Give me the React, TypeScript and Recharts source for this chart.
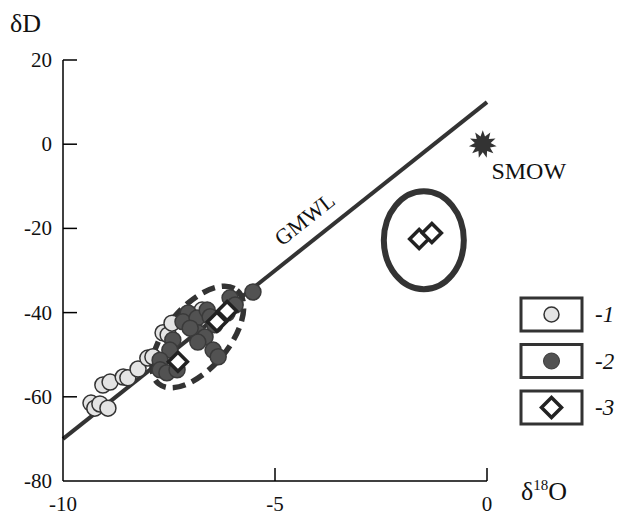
import React from 'react';
import { ScatterChart, Scatter, XAxis, YAxis, ReferenceLine, Legend } from 'recharts';

const FONT = '"Liberation Serif", "Times New Roman", serif';
const INK = '#333333';

const xTicks = [-10, -5, 0];
const yTicks = [20, 0, -20, -40, -60, -80];

// group 1: light circles
const group1X = [-9.34, -9.25, -9.13, -8.94, -9.06, -8.89, -8.58, -8.47, -8.23, -8.0, -7.88, -7.64, -7.52, -7.43, -6.72];
const group1Y = [-61.5, -62.7, -61.7, -62.7, -57.2, -56.5, -55.3, -55.5, -53.4, -50.8, -50.5, -44.8, -45.3, -42.5, -39.4];

// group 2: dark circles
const group2X = [-5.52, -7.05, -7.17, -6.84, -6.6, -6.53, -6.42, -6.82, -6.65, -6.46, -6.34, -6.82, -7.41, -7.48, -7.71, -7.71, -7.55, -7.31, -6.06, -5.94, -6.13, -7.0];
const group2Y = [-35.1, -40.1, -42.2, -41.3, -39.4, -41.0, -42.9, -44.8, -45.8, -48.9, -50.5, -47.0, -46.5, -48.9, -51.3, -53.6, -54.3, -53.6, -36.5, -38.2, -40.1, -43.7];

// group 3: diamonds
const group3X = [-7.29, -6.37, -6.13, -1.6, -1.3];
const group3Y = [-51.7, -42.2, -39.6, -22.5, -21.1];

// global meteoric water line end points: dD = 8 * d18O + 10
const gmwlX = [-10, 0];
const gmwlY = gmwlX.map((v) => 8 * v + 10);

const smow = [{ x: -0.1, y: 0 }];
const gmwlLabel = [{ x: -4.3, y: -17.8 }];
const solidEllipse = [{ x: -1.49, y: -22.8 }];
const dashedEllipse = [{ x: -6.82, y: -45.8 }];

const legendItems = [
  { label: '-1', kind: 'light' },
  { label: '-2', kind: 'dark' },
  { label: '-3', kind: 'diamond' },
];

const toPoints = (xs: number[], ys: number[]) => xs.map((x, i) => ({ x, y: ys[i] }));

const diamondPath = (cx: number, cy: number, s: number) =>
  `M${cx},${cy - s} L${cx + s},${cy} L${cx},${cy + s} L${cx - s},${cy} Z`;

const LightDot = (props: any) => (
  <circle cx={props.cx} cy={props.cy} r={8} fill="#e4e4e4" stroke={INK} strokeWidth={1.5} />
);
const DarkDot = (props: any) => (
  <circle cx={props.cx} cy={props.cy} r={8} fill="#525252" stroke="#3a3a3a" strokeWidth={1.5} />
);
const Diamond = (props: any) => (
  <path d={diamondPath(props.cx, props.cy, 9.5)} fill="#fff" stroke="#222" strokeWidth={3.5} />
);

const Star = (props: any) => {
  const { cx, cy } = props;
  const pts: string[] = [];
  const n = 11;
  for (let i = 0; i < n * 2; i++) {
    const r = i % 2 === 0 ? 14 : 8;
    const a = (Math.PI * i) / n - Math.PI / 2;
    pts.push(`${cx + r * Math.cos(a)},${cy + r * Math.sin(a)}`);
  }
  return (
    <g>
      <polygon points={pts.join(' ')} fill={INK} />
      <text x={cx + 46} y={cy + 27} textAnchor="middle" dominantBaseline="central" fontFamily={FONT} fontSize={24} fill="#111">
        SMOW
      </text>
    </g>
  );
};

const GmwlText = (props: any) => (
  <text
    x={props.cx}
    y={props.cy}
    textAnchor="middle"
    dominantBaseline="central"
    fontFamily={FONT}
    fontSize={22}
    fill="#111"
    transform={`rotate(-38.5, ${props.cx}, ${props.cy})`}
  >
    GMWL
  </text>
);

const SolidRing = (props: any) => (
  <ellipse cx={props.cx} cy={props.cy} rx={40} ry={49} fill="none" stroke={INK} strokeWidth={6} />
);

const DashedRing = (props: any) => (
  <ellipse
    cx={props.cx}
    cy={props.cy}
    rx={61}
    ry={31}
    fill="none"
    stroke={INK}
    strokeWidth={5.5}
    strokeDasharray="13 7"
    transform={`rotate(-50, ${props.cx}, ${props.cy})`}
  />
);

const XTick = (props: any) => {
  const { x, y, payload } = props;
  return (
    <g>
      {payload.value !== -10 && <line x1={x} y1={y} x2={x} y2={y - 13} stroke="#000" strokeWidth={1.5} />}
      <text x={x} y={y + 30} textAnchor="middle" fontFamily={FONT} fontSize={21} fill="#111">
        {payload.value}
      </text>
    </g>
  );
};

const YTick = (props: any) => {
  const { x, y, payload } = props;
  return (
    <g>
      {payload.value !== -80 && <line x1={x} y1={y} x2={x + 14} y2={y} stroke="#000" strokeWidth={1.5} />}
      <text x={x - 11} y={y} textAnchor="end" dominantBaseline="central" fontFamily={FONT} fontSize={21} fill="#111">
        {payload.value}
      </text>
    </g>
  );
};

const LegendBoxes = () => (
  <svg width={110} height={140}>
    {legendItems.map((item, i) => {
      const top = 6 + i * 46.5;
      const cx = 36.5;
      const cy = top + 16.5;
      return (
        <g key={item.label}>
          <rect x={6} y={top} width={61} height={33} fill="#fff" stroke={INK} strokeWidth={3} />
          {item.kind === 'light' && <circle cx={cx} cy={cy} r={7.5} fill="#e4e4e4" stroke={INK} strokeWidth={1.5} />}
          {item.kind === 'dark' && <circle cx={cx} cy={cy} r={8} fill="#525252" stroke="#3a3a3a" strokeWidth={1} />}
          {item.kind === 'diamond' && (
            <path d={diamondPath(cx, cy, 10)} fill="#fff" stroke="#222" strokeWidth={3.5} />
          )}
          <text x={80} y={cy} dominantBaseline="central" fontFamily={FONT} fontStyle="italic" fontSize={23} fill="#111">
            {item.label}
          </text>
        </g>
      );
    })}
  </svg>
);

export default function App() {
  return (
    <div style={{ position: 'absolute', left: 0, top: 0 }}>
      <ScatterChart width={623} height={516} margin={{ top: 60, right: 136, bottom: 0, left: 0 }}>
        <XAxis
          dataKey="x"
          type="number"
          domain={[-10, 0]}
          ticks={xTicks}
          interval={0}
          height={35}
          tickSize={0}
          tickMargin={0}
          tickLine={false}
          axisLine={{ stroke: '#000', strokeWidth: 1.5 }}
          tick={<XTick />}
          label={{
            content: (p: any) => {
              const vb = p.viewBox;
              return (
                <text x={vb.x + vb.width + 34} y={vb.y + 19} fontFamily={FONT} fontSize={26} fill="#111">
                  δ<tspan fontSize={15} dy={-10}>18</tspan>
                  <tspan dy={10}>O</tspan>
                </text>
              );
            },
          }}
        />
        <YAxis
          dataKey="y"
          type="number"
          domain={[-80, 20]}
          ticks={yTicks}
          interval={0}
          width={63}
          tickSize={0}
          tickMargin={0}
          tickLine={false}
          axisLine={{ stroke: '#000', strokeWidth: 1.5 }}
          tick={<YTick />}
          label={{
            content: (p: any) => {
              const vb = p.viewBox;
              return (
                <text x={vb.x + 10} y={vb.y - 28} fontFamily={FONT} fontSize={26} fill="#111">
                  δD
                </text>
              );
            },
          }}
        />
        <ReferenceLine
          segment={[
            { x: gmwlX[0], y: gmwlY[0] },
            { x: gmwlX[1], y: gmwlY[1] },
          ]}
          stroke={INK}
          strokeWidth={4}
        />
        <Scatter data={gmwlLabel} shape={GmwlText} isAnimationActive={false} />
        <Scatter data={dashedEllipse} shape={DashedRing} isAnimationActive={false} />
        <Scatter data={solidEllipse} shape={SolidRing} isAnimationActive={false} />
        <Scatter name="1" data={toPoints(group1X, group1Y)} shape={LightDot} isAnimationActive={false} />
        <Scatter name="2" data={toPoints(group2X, group2Y)} shape={DarkDot} isAnimationActive={false} />
        <Scatter name="3" data={toPoints(group3X, group3Y)} shape={Diamond} isAnimationActive={false} />
        <Scatter data={smow} shape={Star} isAnimationActive={false} />
        <Legend
          layout="horizontal"
          verticalAlign="middle"
          align="center"
          content={LegendBoxes}
          wrapperStyle={{ position: 'absolute', left: 515, top: 292, width: 110, height: 140 }}
        />
      </ScatterChart>
    </div>
  );
}
